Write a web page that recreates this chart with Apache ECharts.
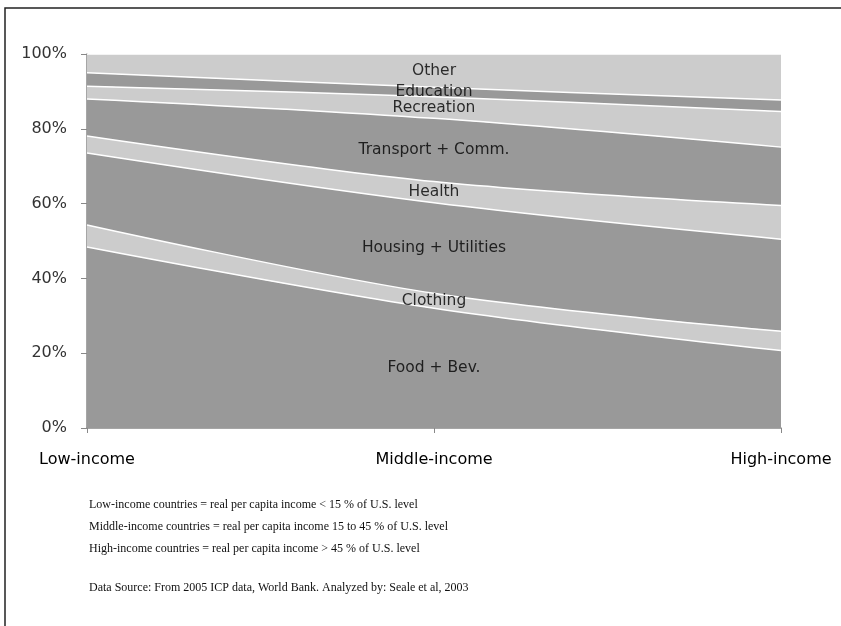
<!DOCTYPE html>
<html>
<head>
<meta charset="utf-8">
<script src="https://cdn.jsdelivr.net/npm/echarts@6/dist/echarts.min.js"></script>
<style>
html,body{margin:0;padding:0;background:#fff;}
#c{width:841px;height:626px;}
</style>
</head>
<body>
<div id="c"></div>
<script>
// ---- data ----
const categories = ['Low-income', 'Middle-income', 'High-income'];
const seriesNames = ['Food + Bev.', 'Clothing', 'Housing + Utilities', 'Health',
                     'Transport + Comm.', 'Recreation', 'Education', 'Other'];
const foodBev    = [48.4, 32.0, 20.7];
const clothing   = [5.9, 4.0, 5.2];
const housing    = [19.2, 24.2, 24.6];
const health     = [4.6, 5.7, 9.0];
const transport  = [9.9, 16.9, 15.6];
const recreation = [3.4, 5.8, 9.5];
const education  = [3.6, 2.5, 3.1];
const other      = [5.0, 8.9, 12.3];
const yTickLabels = ['0%', '20%', '40%', '60%', '80%', '100%'];
const notes = [
  'Low-income countries = real per capita income < 15 % of U.S. level',
  'Middle-income countries = real per capita income 15 to 45 % of U.S. level',
  'High-income countries = real per capita income > 45 % of U.S. level',
  'Data Source: From 2005 ICP data, World Bank. Analyzed by: Seale et al, 2003'
];

// ---- build ----
const values = [foodBev, clothing, housing, health, transport, recreation, education, other];
const DARK = '#999999', LIGHT = '#cccccc';
const SANS = '"DejaVu Sans", sans-serif';

const areaSeries = seriesNames.map((name, i) => ({
  name: name,
  type: 'line',
  stack: 'total',
  smooth: 0.35,
  showSymbol: false,
  silent: true,
  data: values[i],
  lineStyle: { color: '#ffffff', width: 1.5 },
  areaStyle: { color: i % 2 === 0 ? DARK : LIGHT, opacity: 1 },
  z: 2
}));

// band-centre label positions at the middle category
let cum = 0;
const labelData = seriesNames.map((name, i) => {
  const v = values[i][1];
  const c = cum + v / 2;
  cum += v;
  return { name: name, value: [1, c] };
});

const labelSeries = {
  type: 'scatter',
  data: labelData,
  symbolSize: 1,
  silent: true,
  itemStyle: { color: 'rgba(0,0,0,0)' },
  label: {
    show: true,
    position: 'inside',
    formatter: '{b}',
    color: '#000',
    fontFamily: SANS,
    fontSize: 15.5
  },
  z: 10
};

const noteY = [507, 529, 551, 590];
const graphics = [{
  type: 'rect',
  shape: { x: 5, y: 8, width: 900, height: 700 },
  style: { fill: 'none', stroke: '#222', lineWidth: 1.5 },
  silent: true
}].concat(notes.map((t, i) => ({
  type: 'text',
  left: 89,
  top: noteY[i] - 8,
  style: { text: t, fill: '#111', font: '12px "Liberation Serif", serif' },
  silent: true
})));

const chart = echarts.init(document.getElementById('c'), null, { renderer: 'canvas' });
chart.setOption({
  animation: false,
  backgroundColor: '#fff',
  grid: { left: 87, right: 60, top: 54, bottom: 198, containLabel: false },
  xAxis: {
    type: 'category',
    data: categories,
    boundaryGap: false,
    axisLine: { show: true, lineStyle: { color: '#888', width: 1.5 } },
    axisTick: { show: true, length: 5, lineStyle: { color: '#888' } },
    axisLabel: { margin: 24, color: '#000', fontFamily: SANS, fontSize: 16, showMinLabel: true, showMaxLabel: true, interval: 0 },
    splitLine: { show: false }
  },
  yAxis: {
    type: 'value',
    min: 0,
    max: 100,
    interval: 20,
    axisLine: { show: true, lineStyle: { color: '#888', width: 1.5 } },
    axisTick: { show: true, length: 6, lineStyle: { color: '#888' } },
    axisLabel: { margin: 20, color: '#333', fontFamily: SANS, fontSize: 16,
      formatter: v => yTickLabels[Math.round(v / 20)] },
    splitLine: { show: false }
  },
  series: areaSeries.concat([labelSeries]),
  graphic: graphics
});
</script>
</body>
</html>
